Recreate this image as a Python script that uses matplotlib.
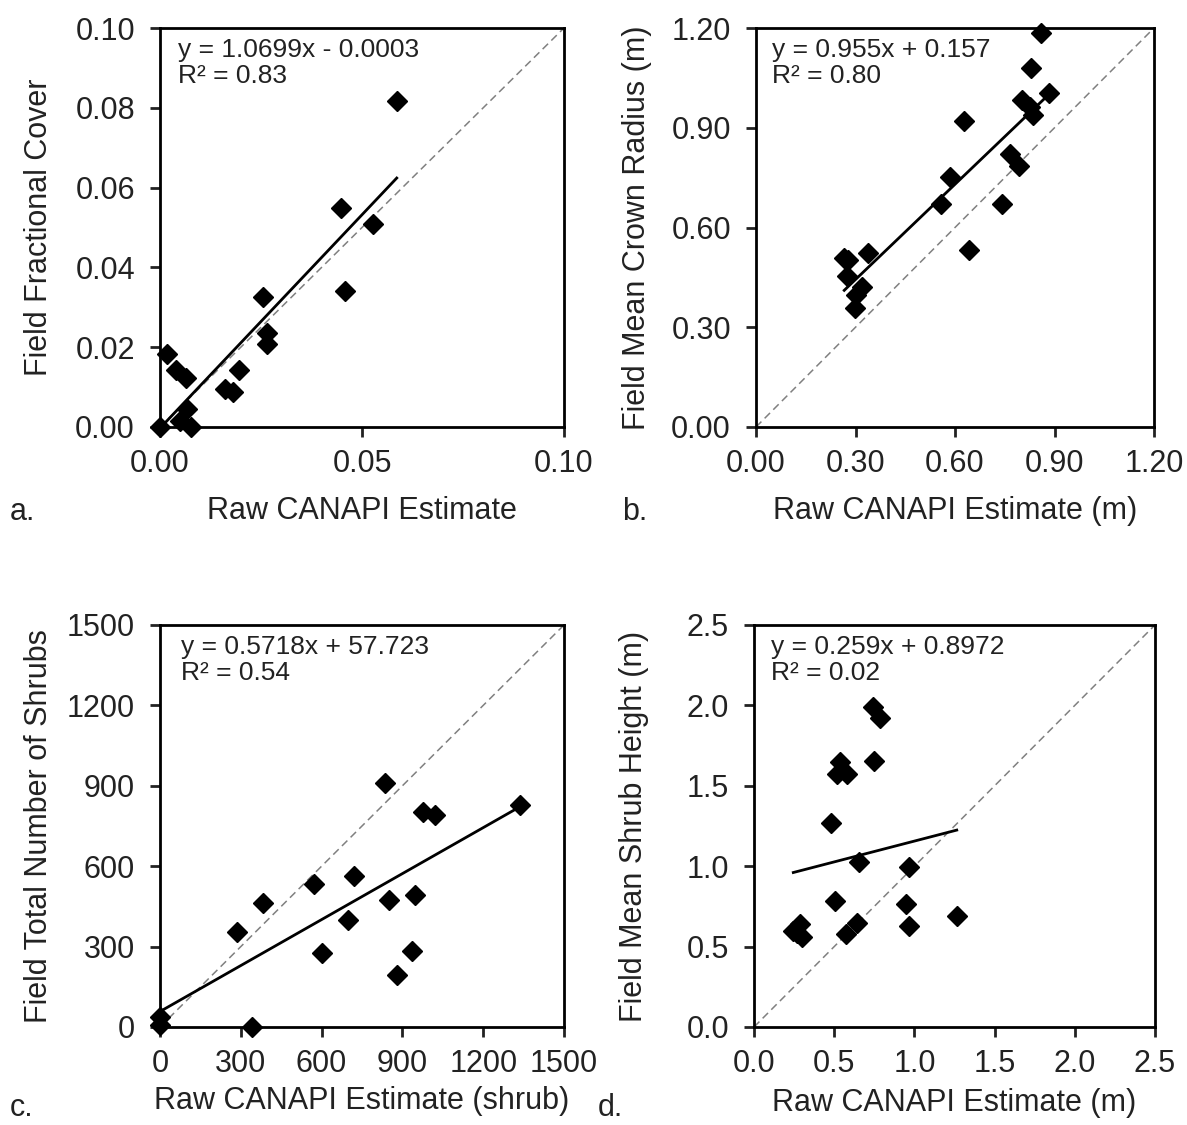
import matplotlib.pyplot as plt
import numpy as np
from matplotlib.ticker import FormatStrFormatter

plt.rcParams['font.family'] = ['Liberation Sans', 'DejaVu Sans']

# a. fractional cover
a_x = [0.0, 0.0017, 0.0040, 0.0064, 0.0068, 0.0050, 0.0076, 0.0161, 0.0180, 0.0196,
       0.0256, 0.0266, 0.0266, 0.0447, 0.0458, 0.0528, 0.0586]
a_y = [0.0, 0.0182, 0.0143, 0.0122, 0.0044, 0.0015, 0.0000, 0.0094, 0.0087, 0.0143,
       0.0325, 0.0235, 0.0208, 0.0550, 0.0342, 0.0508, 0.0817]
# b. crown radius
b_x = [0.858, 0.829, 0.884, 0.801, 0.826, 0.834, 0.628, 0.766, 0.794, 0.585,
       0.557, 0.741, 0.641, 0.266, 0.278, 0.339, 0.273, 0.319, 0.302, 0.298]
b_y = [1.184, 1.081, 1.005, 0.983, 0.962, 0.938, 0.921, 0.821, 0.786, 0.753,
       0.670, 0.670, 0.532, 0.507, 0.502, 0.524, 0.454, 0.422, 0.397, 0.357]
# c. number of shrubs
c_x = [0, 0, 340, 287, 384, 573, 600, 720, 697, 835, 851, 879, 934, 948, 978, 1021, 1337]
c_y = [8, 38, 0, 356, 462, 534, 275, 565, 399, 909, 474, 194, 283, 493, 803, 791, 828]
# d. shrub height
d_x = [0.744, 0.786, 0.536, 0.750, 0.519, 0.578, 0.480, 0.657, 0.968, 0.505,
       0.948, 1.264, 0.968, 0.640, 0.574, 0.245, 0.287, 0.297, 0.266]
d_y = [1.988, 1.920, 1.650, 1.656, 1.573, 1.573, 1.267, 1.024, 0.997, 0.786,
       0.765, 0.692, 0.628, 0.649, 0.578, 0.599, 0.641, 0.562, 0.583]

slopes = [1.0699, 0.955, 0.5718, 0.259]
intercepts = [-0.0003, 0.157, 57.723, 0.8972]
eq_text = ["y = 1.0699x - 0.0003\nR² = 0.83",
           "y = 0.955x + 0.157\nR² = 0.80",
           "y = 0.5718x + 57.723\nR² = 0.54",
           "y = 0.259x + 0.8972\nR² = 0.02"]
ylabels = ["Field Fractional Cover", "Field Mean Crown Radius (m)",
           "Field Total Number of Shrubs", "Field Mean Shrub Height (m)"]
xlabels = ["Raw CANAPI Estimate", "Raw CANAPI Estimate (m)",
           "Raw CANAPI Estimate (shrub)", "Raw CANAPI Estimate (m)"]
letters = ["a.", "b.", "c.", "d."]
ticks = [np.arange(0, 0.101, 0.02), np.arange(0, 1.21, 0.3),
         np.arange(0, 1501, 300), np.arange(0, 2.51, 0.5)]
xticks = [[0, 0.05, 0.10], np.arange(0, 1.21, 0.3),
          np.arange(0, 1501, 300), np.arange(0, 2.51, 0.5)]
fmts = ["%.2f", "%.2f", "%d", "%.1f"]
limits = [0.10, 1.20, 1500, 2.5]

W, H = 1187, 1125
fig = plt.figure(figsize=(W / 100, H / 100), dpi=100)
boxes = [(160, 28, 404, 399), (756, 28, 398, 399),
         (160, 625, 404, 402), (754, 625, 401, 402)]
letter_pos = [(10, 512), (622, 512), (10, 1108), (598, 1108)]
eq_x = [0.045, 0.04, 0.052, 0.042]
xlab_y = [-0.21, -0.21, -0.185, -0.19]

data = [(a_x, a_y), (b_x, b_y), (c_x, c_y), (d_x, d_y)]
for i in range(4):
    l, t, w, h = boxes[i]
    ax = fig.add_axes([l / W, 1 - (t + h) / H, w / W, h / H])
    xs, ys = data[i]
    lim = limits[i]
    ax.plot([0, lim], [0, lim], ls=(0, (5, 3)), color='#808080', lw=1.1, zorder=1)
    xx = np.array([min(xs), max(xs)])
    ax.plot(xx, slopes[i] * xx + intercepts[i], color='black', lw=2, zorder=2)
    ax.plot(xs, ys, 'D', color='black', ms=10.5, clip_on=False, zorder=3)
    ax.set_xlim(0, lim)
    ax.set_ylim(0, lim)
    ax.set_yticks(ticks[i])
    ax.set_xticks(xticks[i])
    ax.xaxis.set_major_formatter(FormatStrFormatter(fmts[i]))
    ax.yaxis.set_major_formatter(FormatStrFormatter(fmts[i]))
    ax.tick_params(direction='out', length=7, width=2, labelsize=22,
                   colors='#222222')
    ax.tick_params(axis='y', pad=11)
    ax.tick_params(axis='x', pad=9)
    for s in ax.spines.values():
        s.set_linewidth(2)
    ax.set_ylabel(ylabels[i], fontsize=22, va='center', color='#222222')
    ax.yaxis.set_label_coords(-0.30, 0.5)
    ax.set_xlabel(xlabels[i], fontsize=22, va='center', color='#222222')
    ax.xaxis.set_label_coords(0.5, xlab_y[i])
    ax.text(eq_x[i], 0.975, eq_text[i], transform=ax.transAxes, fontsize=19,
            va='top', ha='left', linespacing=1.12, color='#222222')
    lx, ly = letter_pos[i]
    fig.text(lx / W, 1 - ly / H, letters[i], fontsize=22, va='center', ha='left',
             color='#222222')

fig.savefig("out.png", dpi=100)
